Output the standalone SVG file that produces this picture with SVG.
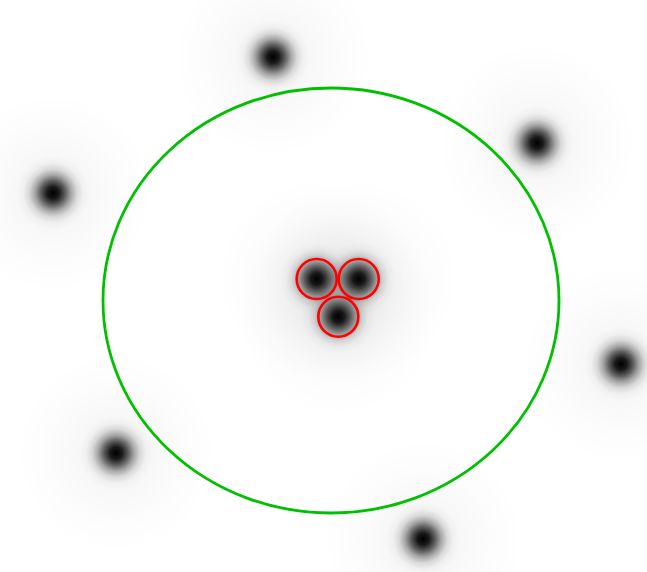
<svg xmlns="http://www.w3.org/2000/svg" width="647" height="572" viewBox="0 0 647 572">
<defs>
<radialGradient id="blob">
<stop offset="0" stop-color="#000" stop-opacity="1"/>
<stop offset="0.06" stop-color="#000" stop-opacity="0.9"/>
<stop offset="0.12" stop-color="#000" stop-opacity="0.64"/>
<stop offset="0.18" stop-color="#000" stop-opacity="0.35"/>
<stop offset="0.24" stop-color="#000" stop-opacity="0.15"/>
<stop offset="0.3" stop-color="#000" stop-opacity="0.06"/>
<stop offset="0.37" stop-color="#000" stop-opacity="0.03"/>
<stop offset="0.65" stop-color="#000" stop-opacity="0.014"/>
<stop offset="1" stop-color="#000" stop-opacity="0"/>
</radialGradient>
<style>
.b{fill:url(#blob)}
.r{fill:none;stroke:#ff0000;stroke-width:2.6}
</style>
</defs>
<rect width="647" height="572" fill="#fff"/>
<g id="blobs">
<circle class="b" cx="273" cy="57" r="100"/>
<circle class="b" cx="537" cy="143" r="100"/>
<circle class="b" cx="53" cy="193" r="100"/>
<circle class="b" cx="621" cy="364" r="100"/>
<circle class="b" cx="116" cy="453" r="100"/>
<circle class="b" cx="423" cy="539" r="100"/>
<circle class="b" cx="316.7" cy="279" r="100"/>
<circle class="b" cx="358.7" cy="279" r="100"/>
<circle class="b" cx="338.3" cy="316.7" r="100"/>
</g>
<ellipse id="green" cx="331" cy="300.5" rx="228" ry="212.5" fill="none" stroke="#00c000" stroke-width="2.8"/>
<g id="red">
<circle class="r" cx="316.7" cy="279" r="20"/>
<circle class="r" cx="358.7" cy="279" r="20"/>
<circle class="r" cx="338.3" cy="316.7" r="20"/>
</g>
</svg>
